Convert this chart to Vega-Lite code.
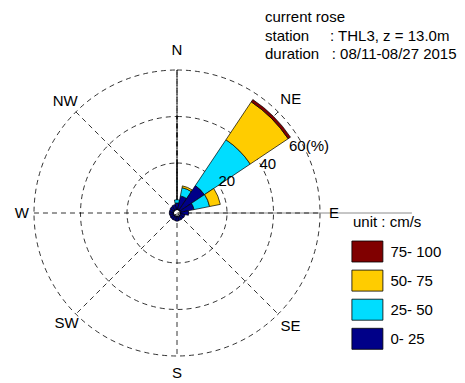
{
  "$schema": "https://vega.github.io/schema/vega-lite/v6.json",
  "width": 300,
  "height": 300,
  "autosize": {"type": "none"},
  "padding": {"left": 27, "top": 63, "right": 138, "bottom": 20},
  "background": "white",
  "config": {"view": {"stroke": null}, "font": "Liberation Sans"},
  "title": {
    "text": ["current rose", "station\u00a0\u00a0\u00a0\u00a0\u00a0: THL3, z = 13.0m", "duration\u00a0\u00a0\u00a0: 08/11-08/27 2015"],
    "anchor": "start",
    "frame": "group",
    "orient": "top",
    "baseline": "alphabetic",
    "dx": 238,
    "dy": 31,
    "offset": 0,
    "lineHeight": 18.5,
    "fontSize": 15,
    "fontWeight": "normal",
    "color": "black",
    "font": "Liberation Sans"
  },
  "datasets": {
    "wedges": [
      {"dir": "N", "a0": -11.25, "a1": 11.25, "speed": "0- 25", "p0": 0, "p1": 2.8},
      {"dir": "N", "a0": -11.25, "a1": 11.25, "speed": "25- 50", "p0": 2.8, "p1": 4.2},
      {"dir": "NNE", "a0": 11.25, "a1": 33.75, "speed": "0- 25", "p0": 0, "p1": 6.0},
      {"dir": "NNE", "a0": 11.25, "a1": 33.75, "speed": "25- 50", "p0": 6.0, "p1": 9.6},
      {"dir": "NNE", "a0": 11.25, "a1": 33.75, "speed": "50- 75", "p0": 9.6, "p1": 10.4},
      {"dir": "NE", "a0": 33.75, "a1": 56.25, "speed": "0- 25", "p0": 0, "p1": 12.7},
      {"dir": "NE", "a0": 33.75, "a1": 56.25, "speed": "25- 50", "p0": 12.7, "p1": 36.4},
      {"dir": "NE", "a0": 33.75, "a1": 56.25, "speed": "50- 75", "p0": 36.4, "p1": 56.0},
      {"dir": "NE", "a0": 33.75, "a1": 56.25, "speed": "75- 100", "p0": 56.0, "p1": 57.2},
      {"dir": "ENE", "a0": 56.25, "a1": 78.75, "speed": "0- 25", "p0": 0, "p1": 6.0},
      {"dir": "ENE", "a0": 56.25, "a1": 78.75, "speed": "25- 50", "p0": 6.0, "p1": 12.8},
      {"dir": "ENE", "a0": 56.25, "a1": 78.75, "speed": "50- 75", "p0": 12.8, "p1": 17.5},
      {"dir": "E", "a0": 78.75, "a1": 101.25, "speed": "0- 25", "p0": 0, "p1": 3.5},
      {"dir": "ESE", "a0": 101.25, "a1": 123.75, "speed": "0- 25", "p0": 0, "p1": 2.0},
      {"dir": "SE", "a0": 123.75, "a1": 146.25, "speed": "0- 25", "p0": 0, "p1": 1.8},
      {"dir": "SSE", "a0": 146.25, "a1": 168.75, "speed": "0- 25", "p0": 0, "p1": 1.8},
      {"dir": "S", "a0": 168.75, "a1": 191.25, "speed": "0- 25", "p0": 0, "p1": 2.0},
      {"dir": "SSW", "a0": 191.25, "a1": 213.75, "speed": "0- 25", "p0": 0, "p1": 1.8},
      {"dir": "SW", "a0": 213.75, "a1": 236.25, "speed": "0- 25", "p0": 0, "p1": 1.8},
      {"dir": "WSW", "a0": 236.25, "a1": 258.75, "speed": "0- 25", "p0": 0, "p1": 1.7},
      {"dir": "W", "a0": 258.75, "a1": 281.25, "speed": "0- 25", "p0": 0, "p1": 1.8},
      {"dir": "WNW", "a0": 281.25, "a1": 303.75, "speed": "0- 25", "p0": 0, "p1": 1.8},
      {"dir": "NW", "a0": 303.75, "a1": 326.25, "speed": "0- 25", "p0": 0, "p1": 2.0},
      {"dir": "NNW", "a0": 326.25, "a1": 348.75, "speed": "0- 25", "p0": 0, "p1": 2.2}
    ],
    "rings": [{"p": 20}, {"p": 40}, {"p": 60}],
    "spokes": [
      {"x": 0, "y": 61.5, "x2": 0, "y2": -61.5},
      {"x": -61.5, "y": 0, "x2": 61.5, "y2": 0},
      {"x": 43.49, "y": 43.49, "x2": -43.49, "y2": -43.49},
      {"x": -43.49, "y": 43.49, "x2": 43.49, "y2": -43.49}
    ],
    "baseline": [{"x": 0, "y": 0, "x2": 101, "y2": 0}],
    "compass": [
      {"name": "N", "bearing": 0, "p": 68.4},
      {"name": "NE", "bearing": 45, "p": 67.7},
      {"name": "E", "bearing": 90, "p": 66.0},
      {"name": "SE", "bearing": 135, "p": 67.5},
      {"name": "S", "bearing": 180, "p": 67.1},
      {"name": "SW", "bearing": 225, "p": 65.6},
      {"name": "W", "bearing": 270, "p": 65.2},
      {"name": "NW", "bearing": 315, "p": 66.5}
    ],
    "ringlabels": [
      {"label": "20", "bearing": 57.0, "p": 24.0},
      {"label": "40", "bearing": 61.5, "p": 42.9},
      {"label": "60(%)", "bearing": 63.0, "p": 62.2}
    ]
  },
  "layer": [
    {
      "data": {"name": "baseline"},
      "mark": {"type": "rule", "color": "#8c8c8c", "strokeWidth": 1},
      "encoding": {
        "x": {"field": "x", "type": "quantitative", "scale": {"domain": [-64.5, 64.5]}, "axis": null},
        "y": {"field": "y", "type": "quantitative", "scale": {"domain": [-64.5, 64.5]}, "axis": null},
        "x2": {"field": "x2"},
        "y2": {"field": "y2"}
      }
    },
    {
      "data": {"name": "spokes"},
      "mark": {"type": "rule", "color": "black", "strokeWidth": 0.8, "strokeDash": [5, 4]},
      "encoding": {
        "x": {"field": "x", "type": "quantitative", "scale": {"domain": [-64.5, 64.5]}, "axis": null},
        "y": {"field": "y", "type": "quantitative", "scale": {"domain": [-64.5, 64.5]}, "axis": null},
        "x2": {"field": "x2"},
        "y2": {"field": "y2"}
      }
    },
    {
      "data": {"name": "rings"},
      "mark": {"type": "arc", "filled": false, "stroke": "black", "strokeWidth": 0.8, "strokeDash": [5, 4]},
      "encoding": {
        "theta": {"datum": 0, "type": "quantitative", "stack": null, "scale": {"domain": [0, 360], "range": [0, 6.283185307]}},
        "theta2": {"datum": 360},
        "radius": {"field": "p", "type": "quantitative", "stack": null, "scale": {"type": "linear", "zero": false, "domain": [-1.5, 60], "range": [0, 143]}}
      }
    },
    {
      "data": {"name": "wedges"},
      "mark": {"type": "arc", "stroke": "black", "strokeWidth": 0.7},
      "encoding": {
        "theta": {"field": "a0", "type": "quantitative", "stack": null, "scale": {"domain": [0, 360], "range": [0, 6.283185307]}},
        "theta2": {"field": "a1"},
        "radius": {"field": "p1", "type": "quantitative", "stack": null, "scale": {"type": "linear", "zero": false, "domain": [-1.5, 60], "range": [0, 143]}},
        "radius2": {"field": "p0"},
        "color": {
          "field": "speed",
          "type": "nominal",
          "scale": {"domain": ["75- 100", "50- 75", "25- 50", "0- 25"], "range": ["#800000", "#FFCC00", "#00DDFF", "#000088"]},
          "legend": {
            "title": "unit : cm/s",
            "orient": "none",
            "legendX": 326,
            "legendY": 152,
            "padding": 0,
            "titleFontSize": 15,
            "titleFontWeight": "normal",
            "titleColor": "black",
            "titleFont": "Liberation Sans",
            "titlePadding": 10.5,
            "labelFontSize": 15,
            "labelColor": "black",
            "labelFont": "Liberation Sans",
            "symbolType": "M-1.476,-1L1.476,-1L1.476,1L-1.476,1Z",
            "symbolSize": 441,
            "symbolStrokeColor": "black",
            "symbolStrokeWidth": 0.8,
            "symbolOpacity": 1,
            "symbolOffset": 3.4,
            "labelOffset": 12,
            "rowPadding": 3.1
          }
        }
      }
    },
    {
      "data": {"values": [{"p": 0}]},
      "mark": {"type": "arc", "fill": "white", "stroke": null},
      "encoding": {
        "theta": {"datum": 0, "type": "quantitative", "stack": null, "scale": {"domain": [0, 360], "range": [0, 6.283185307]}},
        "theta2": {"datum": 360},
        "radius": {"field": "p", "type": "quantitative", "stack": null, "scale": {"type": "linear", "zero": false, "domain": [-1.5, 60], "range": [0, 143]}}
      }
    },
    {
      "data": {"name": "compass"},
      "mark": {"type": "text", "fontSize": 15, "align": "center", "baseline": "middle", "color": "black"},
      "encoding": {
        "theta": {"field": "bearing", "type": "quantitative", "stack": null, "scale": {"domain": [0, 360], "range": [0, 6.283185307]}},
        "radius": {"field": "p", "type": "quantitative", "stack": null, "scale": {"type": "linear", "zero": false, "domain": [-1.5, 60], "range": [0, 143]}},
        "text": {"field": "name"}
      }
    },
    {
      "data": {"name": "ringlabels"},
      "mark": {"type": "text", "fontSize": 15, "align": "center", "baseline": "middle", "color": "black"},
      "encoding": {
        "theta": {"field": "bearing", "type": "quantitative", "stack": null, "scale": {"domain": [0, 360], "range": [0, 6.283185307]}},
        "radius": {"field": "p", "type": "quantitative", "stack": null, "scale": {"type": "linear", "zero": false, "domain": [-1.5, 60], "range": [0, 143]}},
        "text": {"field": "label"}
      }
    }
  ]
}
